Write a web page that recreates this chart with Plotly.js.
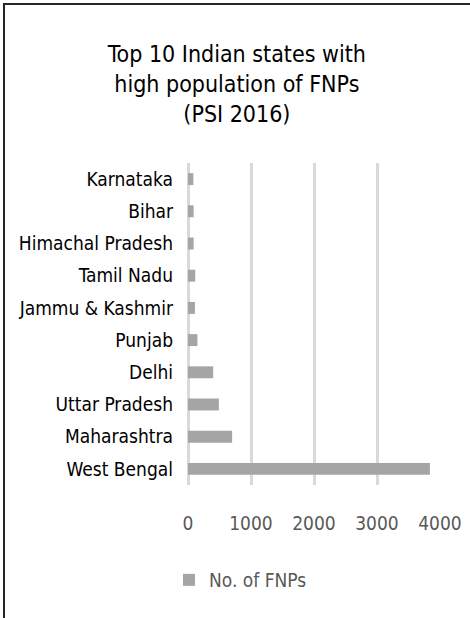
<!DOCTYPE html>
<html>
<head>
<meta charset="utf-8">
<script src="https://cdn.plot.ly/plotly-3.0.1.min.js"></script>
<style>
  html, body { margin: 0; padding: 0; background: #fff; }
  #chart { width: 470px; height: 618px; position: relative; }
  #frame { position: absolute; left: 3px; top: 3px; width: 470px; height: 620px;
           border-top: 2px solid #262626; border-left: 2px solid #262626; pointer-events: none; box-sizing: border-box; }
</style>
</head>
<body>
<div id="chart"></div>
<div id="frame"></div>
<script>
const states = ["West Bengal", "Maharashtra", "Uttar Pradesh", "Delhi", "Punjab",
                "Jammu & Kashmir", "Tamil Nadu", "Himachal Pradesh", "Bihar", "Karnataka"];
const fnps = [3840, 700, 490, 400, 150, 110, 115, 90, 90, 85];
const seriesName = "No. of FNPs";
const titleText = "Top 10 Indian states with<br>high population of FNPs<br>(PSI 2016)";
const xTicks = [0, 1000, 2000, 3000, 4000];

const FONT = '"Liberation Sans Narrow", "DejaVu Sans Condensed", "Roboto", sans-serif';

const data = [{
  type: 'bar',
  orientation: 'h',
  y: states,
  x: fnps,
  name: seriesName,
  marker: { color: '#a5a5a5' },
  showlegend: true,
  hoverinfo: 'x+y'
}];

const layout = {
  width: 470, height: 618,
  margin: { l: 188, r: 30, t: 163, b: 133 },
  paper_bgcolor: '#ffffff',
  plot_bgcolor: '#ffffff',
  font: { family: FONT, color: '#000000', size: 19 },
  title: {
    text: titleText,
    font: { family: FONT, size: 23, color: '#000000' },
    xref: 'container', x: 0.504, xanchor: 'center',
    yref: 'container', y: 1 - 62 / 618, yanchor: 'top'
  },
  bargap: 0.63,
  xaxis: {
    range: [0, 4000],
    tickvals: xTicks,
    ticktext: xTicks.map(String),
    showgrid: true, gridcolor: '#d9d9d9', gridwidth: 3,
    zeroline: true, zerolinecolor: '#d9d9d9', zerolinewidth: 3,
    showline: false, ticks: '',
    ticklabelstandoff: 25,
    tickfont: { family: FONT, size: 19, color: '#595959' },
    fixedrange: true
  },
  yaxis: {
    type: 'category',
    categoryorder: 'array', categoryarray: states,
    showgrid: false, zeroline: false, showline: false, ticks: '',
    ticklabelstandoff: 14,
    tickfont: { family: FONT, size: 19, color: '#000000' },
    fixedrange: true
  },
  legend: {
    orientation: 'h',
    xref: 'container', yref: 'container',
    x: 169 / 470, xanchor: 'left',
    y: 1 - 580 / 618, yanchor: 'middle',
    font: { family: FONT, size: 19, color: '#595959' },
    bgcolor: 'rgba(0,0,0,0)'
  }
};

Plotly.newPlot('chart', data, layout, { displayModeBar: false, staticPlot: true });
</script>
</body>
</html>
